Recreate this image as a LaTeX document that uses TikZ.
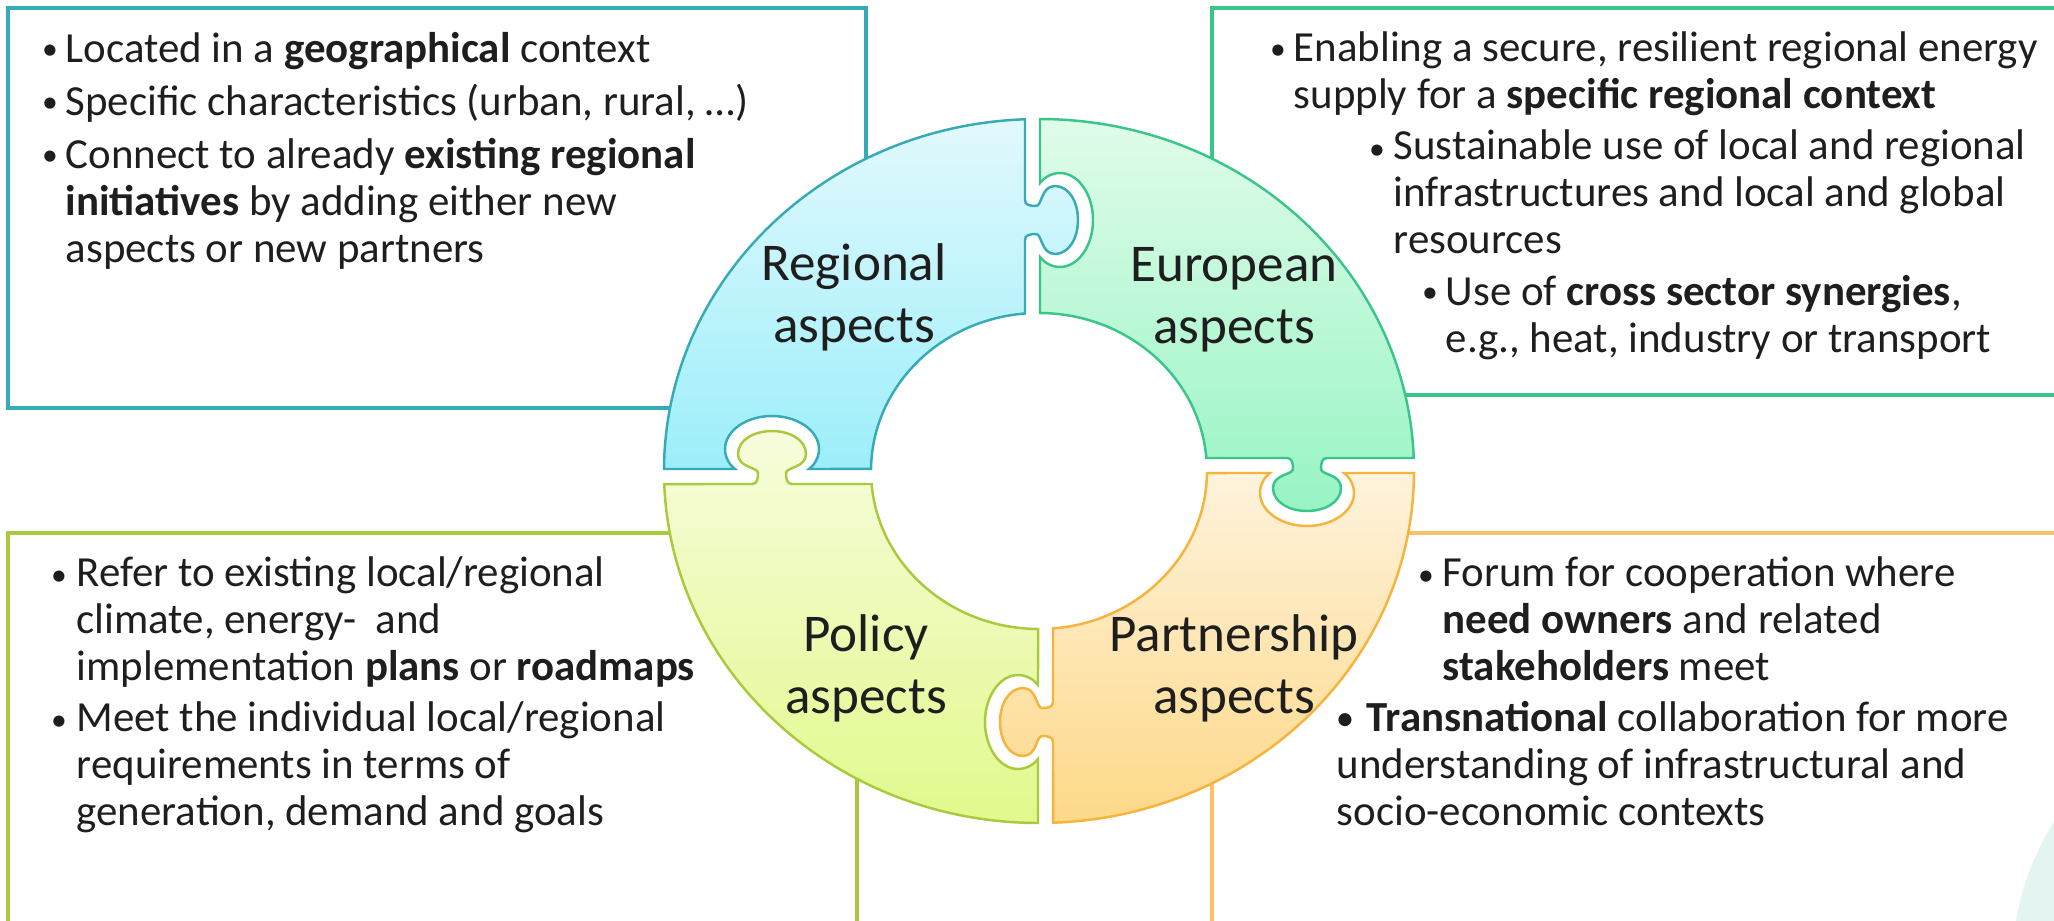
\documentclass[tikz,border=0pt]{standalone}
\usepackage{fontspec}
\setmainfont{Carlito}
\definecolor{regline}{HTML}{36AAB6}
\definecolor{regtop}{HTML}{E2F9FD}
\definecolor{regbot}{HTML}{9CEEFA}
\definecolor{eurline}{HTML}{3AC68A}
\definecolor{eurtop}{HTML}{E0FCEA}
\definecolor{eurbot}{HTML}{98F4C4}
\definecolor{polline}{HTML}{A8CA3C}
\definecolor{poltop}{HTML}{F7FCDC}
\definecolor{polbot}{HTML}{E1F98C}
\definecolor{parline}{HTML}{F6B43C}
\definecolor{partop}{HTML}{FFF3DD}
\definecolor{parbot}{HTML}{FDD888}
\definecolor{parbox}{HTML}{FBC168}
\definecolor{txtgray}{HTML}{1E1E1E}
\definecolor{cornertint}{HTML}{E4F4F1}

% puzzle tab sticking out of an edge, local frame: u along edge, v outward
\newcommand\pzknob[1]{-- ([#1]20,0) .. controls ([#1]15,0) and ([#1]14,5) .. ([#1]14,11)
  .. controls ([#1]14,17) and ([#1]34,16) .. ([#1]34,30)
  .. controls ([#1]34,44) and ([#1]18,53) .. ([#1]0,53)
  .. controls ([#1]-18,53) and ([#1]-34,44) .. ([#1]-34,30)
  .. controls ([#1]-34,16) and ([#1]-14,17) .. ([#1]-14,11)
  .. controls ([#1]-14,5) and ([#1]-15,0) .. ([#1]-20,0)}
% matching hole, local frame: u along edge, v into the piece
\newcommand\pzsocket[1]{-- ([#1]-37,0) .. controls ([#1]-41,3) and ([#1]-47,10) .. ([#1]-47,20)
  .. controls ([#1]-47,38) and ([#1]-26,53) .. ([#1]0,53)
  .. controls ([#1]26,53) and ([#1]47,38) .. ([#1]47,20)
  .. controls ([#1]47,10) and ([#1]41,3) .. ([#1]37,0)}

\tikzset{
  infobox/.style={line width=1.3pt},
  piece/.style={line width=0.7pt},
  bul/.style={anchor=base, inner sep=0pt, font=\fontsize{9}{10}\selectfont, text=txtgray},
  itemtext/.style={anchor=base west, inner sep=0pt, align=left, font=\fontsize{12.2}{13.3}\selectfont, text=txtgray},
  plabel/.style={anchor=base, inner sep=0pt, align=center, font=\fontsize{15.1}{17.6}\selectfont, text=txtgray}
}

\begin{document}
\begin{tikzpicture}[x=0.01cm, y=-0.01cm]
\useasboundingbox[fill=white] (0,0) rectangle (2054,921);
\fill[cornertint] (2054,822) .. controls (2036,850) and (2022,885) .. (2016,921) -- (2054,921) -- cycle;

% frames
\draw[infobox, draw=regline] (8,8) rectangle (866,408);
\draw[infobox, draw=eurline] (1212,8) rectangle (2090,395);
\draw[infobox, draw=polline] (8,533) rectangle (857,960);
\draw[infobox, draw=parbox] (1212,533) rectangle (2090,960);

% puzzle ring
\draw[piece, draw=regline, top color=regtop, bottom color=regbot] (664,469)
  arc[start angle=180.33, end angle=267.86, x radius=375, y radius=352]
  \pzknob{shift={(1025,220)},rotate=90} -- (1025,313.5)
  arc[start angle=265.22, end angle=180.73, x radius=168, y radius=158]
  \pzsocket{shift={(772,469)},rotate=180} -- cycle;
\draw[piece, draw=eurline, top color=eurtop, bottom color=eurbot] (1040,119)
  arc[start angle=270.15, end angle=357.88, x radius=375, y radius=352]
  \pzknob{shift={(1307,458)},rotate=0} -- (1206.4,458)
  arc[start angle=355.28, end angle=270.34, x radius=168, y radius=158]
  \pzsocket{shift={(1040,220)},rotate=90} -- cycle;
\draw[piece, draw=parline, top color=partop, bottom color=parbot] (1414,473)
  arc[start angle=0.33, end angle=87.86, x radius=375, y radius=352]
  \pzknob{shift={(1053,722)},rotate=-90} -- (1053,628.45)
  arc[start angle=85.22, end angle=0.73, x radius=168, y radius=158]
  \pzsocket{shift={(1307,473)},rotate=0} -- cycle;
\draw[piece, draw=polline, top color=poltop, bottom color=polbot] (1038,823)
  arc[start angle=90.15, end angle=177.88, x radius=375, y radius=352]
  \pzknob{shift={(772,484)},rotate=180} -- (871.6,484)
  arc[start angle=175.28, end angle=90.34, x radius=168, y radius=158]
  \pzsocket{shift={(1038,722)},rotate=-90} -- cycle;

\node[plabel] (reg) at (854,342) {Regional\\aspects};
\node[plabel] (eur) at (1234,343) {European\\aspects};
\node[plabel] (pol) at (866,713) {Policy\\aspects};
\node[plabel] (par) at (1234,713) {Partnership\\aspects};

% regional box
\node[bul] (rb1) at (50,59) {•};
\node[itemtext] (rt1) at (65,62) {Located in a \textbf{geographical} context};
\node[bul] (rb2) at (50,112) {•};
\node[itemtext] (rt2) at (65,115) {Specific characteristics (urban, rural, …)};
\node[bul] (rb3) at (50,165) {•};
\node[itemtext] (rt3) at (65,262) {Connect to already \textbf{existing regional}\\\textbf{initiatives} by adding either new\\aspects or new partners};

% european box
\node[bul] (eb1) at (1278,59) {•};
\node[itemtext] (et1) at (1293,108) {Enabling a secure, resilient regional energy\\supply for a \textbf{specific regional context}};
\node[bul] (eb2) at (1377,159) {•};
\node[itemtext] (et2) at (1393,253) {Sustainable use of local and regional\\infrastructures and local and global\\resources};
\node[bul] (eb3) at (1430,302) {•};
\node[itemtext] (et3) at (1445,352) {Use of \textbf{cross sector synergies},\\e.g., heat, industry or transport};

% policy box
\node[bul] (lb1) at (59,585) {•};
\node[itemtext] (lt1) at (76,680) {Refer to existing local/regional\\climate, energy-~ and\\implementation \textbf{plans} or \textbf{roadmaps}};
\node[bul] (lb2) at (59,730) {•};
\node[itemtext] (lt2) at (76,825) {Meet the individual local/regional\\requirements in terms of\\generation, demand and goals};

% partnership box
\node[bul] (pb1) at (1426,585) {•};
\node[itemtext] (pt1) at (1442,680) {Forum for cooperation where\\\textbf{need owners} and related\\\textbf{stakeholders} meet};
\node[bul, font=\fontsize{10.5}{11}\selectfont] (pb2) at (1345,730) {•};
\node[itemtext] (pt2) at (1336,825) {\hspace*{0.3cm}\textbf{Transnational} collaboration for more\\understanding of infrastructural and\\socio-economic contexts};
\end{tikzpicture}
\end{document}
